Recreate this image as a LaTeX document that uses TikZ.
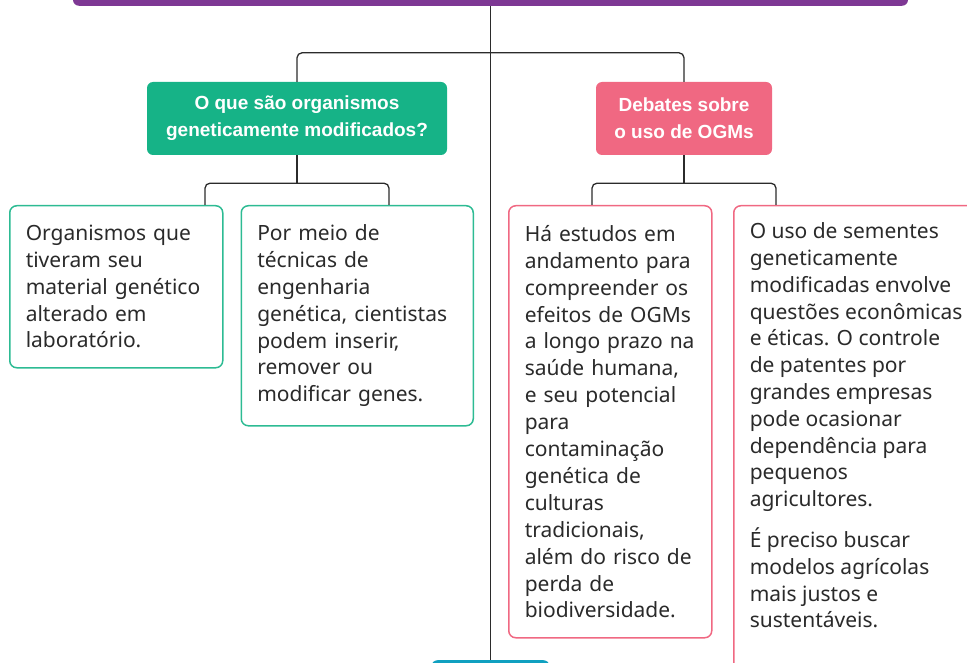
\documentclass[tikz,border=0pt]{standalone}
\usepackage{fontspec}
\setmainfont{Noto Sans}
\newfontfamily\headfont{Liberation Sans}
\usetikzlibrary{positioning,calc}

\definecolor{ogmpurple}{HTML}{7E3894}
\definecolor{ogmgreen}{HTML}{16B387}
\definecolor{ogmpink}{HTML}{F06882}
\definecolor{ogmteal}{HTML}{10A0C0}
\definecolor{ogmline}{HTML}{2B2B2B}
\definecolor{ogmtext}{HTML}{2A2A2A}

\begin{document}
\begin{tikzpicture}[
  x=1pt, y=-1pt,
  conn/.style={draw=ogmline, line width=1.3pt, rounded corners=5pt},
  head/.style={rounded corners=6pt, text=white, align=center, inner sep=0pt,
    minimum height=73pt, font=\headfont\bfseries\fontsize{19}{27}\selectfont},
  leaf/.style={draw, line width=1.5pt, rounded corners=7pt, text=ogmtext, align=left,
    anchor=north west, inner xsep=16pt, inner ysep=14pt, font=\fontsize{21}{26.8}\selectfont},
  greenleaf/.style={leaf, draw=ogmgreen!90},
  pinkleaf/.style={leaf, draw=ogmpink}
]
\path[use as bounding box] (0,0) rectangle (967,663);
\clip (0,0) rectangle (967,663);

\node[fill=ogmpurple, rounded corners=6pt, minimum width=835pt, minimum height=40pt, anchor=south] (top) at (490.5,6) {};
\node[fill=ogmteal, rounded corners=6pt, minimum width=118pt, minimum height=40pt, anchor=north] (bottom) at (490.5,660) {};

\node[head, fill=ogmgreen, minimum width=300pt] (green) at (297,118.5) {O que são organismos\\geneticamente modificados?};
\node[head, fill=ogmpink, minimum width=176pt] (pink) at (684,118.5) {Debates sobre\\o uso de OGMs};

% left branch
\node[greenleaf, text width=181pt, minimum height=162pt] (gen) at (9,205)
  {Organismos que\\tiveram seu\\material genético\\alterado em\\laboratório.};
\node[greenleaf, text width=200pt, minimum height=220pt, right=17pt of gen.north east, anchor=north west] (tec)
  {Por meio de\\técnicas de\\engenharia\\genética, cientistas\\podem inserir,\\remover ou\\modificar genes.};

% right branch
\node[pinkleaf, text width=171pt, minimum height=432pt, font=\fontsize{21}{26.9}\selectfont] (est) at (508,205)
  {Há estudos em\\andamento para\\compreender os\\efeitos de OGMs\\a longo prazo na\\saúde humana,\\e seu potencial\\para\\contaminação\\genética de\\culturas\\tradicionais,\\além do risco de\\perda de\\biodiversidade.};
\node[pinkleaf, inner ysep=17pt] (sem) at (733,205)
  {\begin{minipage}[t][470pt][t]{220pt}\raggedright
   O uso de sementes\\geneticamente\\modificadas envolve\\questões econômicas\\e éticas. O controle\\de patentes por\\grandes empresas\\pode ocasionar\\dependência para\\pequenos\\agricultores.\\[14pt]
   É preciso buscar\\modelos agrícolas\\mais justos e\\sustentáveis.
   \end{minipage}};

\draw[conn] (top.south) -- (bottom.north);
\draw[conn] (green.north) -- ++(0,-29) -| (pink.north);

\coordinate (gl) at ($(green.south)+(-92,28)$);
\coordinate (gr) at ($(green.south)+(92,28)$);
\draw[conn] (green.south) -- (green.south |- gl);
\draw[conn] (gen.north -| gl) -- (gl) -- (gr) -- (tec.north -| gr);

\coordinate (pl) at ($(pink.south)+(-92,28)$);
\coordinate (pr) at ($(pink.south)+(92,28)$);
\draw[conn] (pink.south) -- (pink.south |- pl);
\draw[conn] (est.north -| pl) -- (pl) -- (pr) -- (sem.north -| pr);
\end{tikzpicture}
\end{document}
